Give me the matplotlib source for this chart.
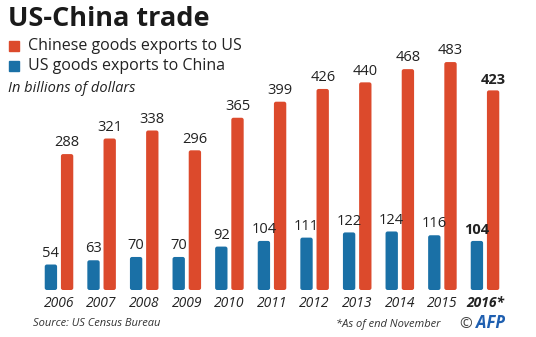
import matplotlib
matplotlib.use("Agg")
import matplotlib.pyplot as plt
from matplotlib.patches import FancyBboxPatch
import numpy as np

# -------------------------
# DATA
# -------------------------
years = ["2006", "2007", "2008", "2009", "2010", "2011",
         "2012", "2013", "2014", "2015", "2016*"]
china_exports = [288, 321, 338, 296, 365, 399, 426, 440, 468, 483, 423]
us_exports = [54, 63, 70, 70, 92, 104, 111, 122, 124, 116, 104]

RED = "#dc4a2c"
BLUE = "#1a70a6"
FONT = "Open Sans"

plt.rcParams['font.family'] = [FONT, 'DejaVu Sans']

# -------------------------
# FIGURE
# -------------------------
fig = plt.figure(figsize=(5.36, 3.37), dpi=100)
fig.patch.set_facecolor("white")
ax = fig.add_axes([0, 0, 1, 1])
ax.set_xlim(-1.385, 11.197)
ax.set_ylim(-99.6, 614.5)
ax.axis("off")

x = np.arange(len(years))
off = 0.19
w = 0.29

blue_bars = ax.bar(x - off, us_exports, width=w, color=BLUE)
red_bars = ax.bar(x + off, china_exports, width=w, color=RED)

# swap plain bars for slightly rounded ones
for b in list(blue_bars) + list(red_bars):
    bx, by = b.get_xy()
    bw, bh = b.get_width(), b.get_height()
    rounded = FancyBboxPatch((bx, by), bw, bh,
                             boxstyle="round,pad=0,rounding_size=0.05",
                             mutation_aspect=90,
                             facecolor=b.get_facecolor(), edgecolor="none")
    b.set_visible(False)
    ax.add_patch(rounded)

last = len(years) - 1
for i in x:
    bold = "bold" if i == last else "normal"
    ax.text(i - off, us_exports[i] + 8, str(us_exports[i]), ha="center",
            va="bottom", fontsize=10.5, color="#222222", fontweight=bold)
    ax.text(i + off, china_exports[i] + 8, str(china_exports[i]), ha="center",
            va="bottom", fontsize=10.5, color="#222222", fontweight=bold)
    ax.text(i, -12, years[i], ha="center", va="top", fontsize=10,
            style="italic", color="#222222", fontweight=bold)

# -------------------------
# TITLES / LEGEND / NOTES
# -------------------------
fig.text(8 / 536, 1 - 19 / 337, "US-China trade", fontsize=19.5,
         fontweight="bold", color="#1a1a1a", va="center", ha="left")

legend_rows = [("Chinese goods exports to US", RED, 46),
               ("US goods exports to China", BLUE, 66)]
for label, col, ypix in legend_rows:
    fig.patches.append(plt.Rectangle((9 / 536, 1 - (ypix + 5) / 337),
                                     10 / 536, 10 / 337,
                                     transform=fig.transFigure,
                                     color=col, figure=fig))
    fig.text(28 / 536, 1 - ypix / 337, label, fontsize=11.5,
             color="#222222", va="center", ha="left")

fig.text(8 / 536, 1 - 88 / 337, "In billions of dollars", fontsize=10.5,
         style="italic", color="#222222", va="center", ha="left")

fig.text(33 / 536, 1 - 324 / 337, "Source: US Census Bureau", fontsize=8,
         style="italic", color="#333333", va="center", ha="left")
fig.text(336 / 536, 1 - 324 / 337, "*As of end November", fontsize=8,
         style="italic", color="#333333", va="center", ha="left")
fig.text(459 / 536, 1 - 324 / 337, "\u00a9", fontsize=11,
         color="#444444", va="center", ha="left")
fig.text(476 / 536, 1 - 323 / 337, "AFP", fontsize=12, fontweight="bold",
         style="italic", color="#1f5fb0", va="center", ha="left")

fig.savefig("out.png", dpi=100, facecolor="white")
